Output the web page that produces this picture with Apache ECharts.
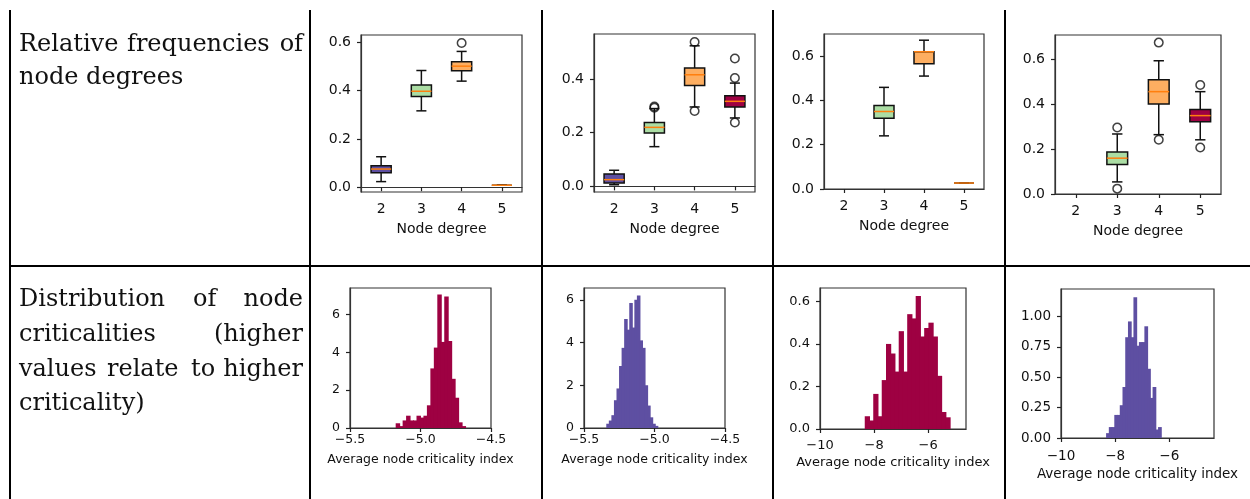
<!DOCTYPE html>
<html>
<head>
<meta charset="utf-8">
<script src="https://cdn.jsdelivr.net/npm/echarts@6/dist/echarts.min.js"></script>
<style>
html, body { margin: 0; padding: 0; background: #fff; }
#main { width: 1250px; height: 499px; }
</style>
</head>
<body>
<div id="main"></div>
<script>
// node degree categories and their colours (Spectral)
const DEGREES = ['2', '3', '4', '5'];
const DEGREE_COLORS = ['#5e4fa2', '#abdda4', '#fdae61', '#9e0142'];

// box stats: [degree index, low whisker, q1, median, q3, high whisker]
const BOX_1 = [[0, 0.023, 0.06, 0.075, 0.089, 0.126], [1, 0.316, 0.375, 0.397, 0.423, 0.483],
  [2, 0.439, 0.482, 0.501, 0.519, 0.562], [3, 0.008, 0.008, 0.008, 0.008, 0.008]];
const OUT_1 = [[2, 0.597]];
const BOX_2 = [[0, 0.006, 0.013, 0.025, 0.046, 0.06], [1, 0.148, 0.199, 0.22, 0.238, 0.29],
  [2, 0.296, 0.376, 0.416, 0.441, 0.524], [3, 0.255, 0.296, 0.317, 0.338, 0.385]];
const OUT_2 = [[1, 0.298], [1, 0.293], [2, 0.538], [2, 0.281], [3, 0.404], [3, 0.477], [3, 0.238]];
const BOX_3 = [[1, 0.24, 0.32, 0.35, 0.377, 0.459], [2, 0.51, 0.566, 0.62, 0.62, 0.672],
  [3, 0.027, 0.027, 0.027, 0.027, 0.027]];
const OUT_3 = [];
const BOX_4 = [[1, 0.054, 0.132, 0.16, 0.188, 0.268], [2, 0.265, 0.402, 0.457, 0.51, 0.595],
  [3, 0.242, 0.323, 0.35, 0.377, 0.457]];
const OUT_4 = [[1, 0.297], [1, 0.024], [2, 0.676], [2, 0.242], [3, 0.487], [3, 0.208]];

const BOX_TICKS_1 = [0, 0.2, 0.4, 0.6];
const BOX_TICKS_2 = [0, 0.2, 0.4];
const BOX_TICKS_3 = [0, 0.2, 0.4, 0.6];
const BOX_TICKS_4 = [0, 0.2, 0.4, 0.6];

// histogram densities, first bin edge and bin width
const HIST_1 = [0.25, 0.1, 0.4, 0.65, 0.4, 0.4, 0.65, 0.55, 0.65, 1.2,
  3.15, 4.25, 7.05, 4.55, 6.95, 4.6, 2.6, 1.6, 0.3, 0.1];
const HIST_1_START = -5.176, HIST_1_BIN = 0.0246;
const HIST_2 = [0.2, 0.35, 0.6, 1.3, 1.85, 2.9, 3.75, 5.1, 4.6, 5.85,
  4.7, 6.0, 6.2, 4.1, 3.75, 2.0, 1.05, 0.5, 0.2, 0.1];
const HIST_2_START = -5.342, HIST_2_BIN = 0.0181;
const HIST_3 = [0.06, 0.04, 0.165, 0.06, 0.23, 0.4, 0.355, 0.27, 0.46, 0.27,
  0.54, 0.52, 0.625, 0.435, 0.475, 0.5, 0.435, 0.25, 0.08, 0.055];
const HIST_3_START = -8.345, HIST_3_BIN = 0.157;
const HIST_4 = [0.04, 0.09, 0.09, 0.19, 0.19, 0.27, 0.42, 0.83, 0.96, 0.83,
  1.16, 0.76, 0.79, 0.79, 0.92, 0.57, 0.33, 0.42, 0.07, 0.09];
const HIST_4_START = -8.335, HIST_4_BIN = 0.101;

const HIST_X_TICKS_1 = [-5.5, -5.0, -4.5];
const HIST_X_TICKS_3 = [-10, -8, -6];
const HIST_Y_TICKS_1 = [0, 2, 4, 6];
const HIST_Y_TICKS_3 = [0, 0.2, 0.4, 0.6];
const HIST_Y_TICKS_4 = [0, 0.25, 0.5, 0.75, 1.0];

const CRIMSON = '#9e0142';
const PURPLE = '#5e4fa2';

const mpl = '"DejaVu Sans", sans-serif';
const fmt = (d) => (v) => Number(v).toFixed(d).replace('-', '\u2212');

// layout of the eight panels
const panels = [
  { box: BOX_1, out: OUT_1, yTicks: BOX_TICKS_1, ymin: -0.02, ymax: 0.63, rect: [361, 35, 161, 157], fs: 14, xm: 10, gap: 30 },
  { box: BOX_2, out: OUT_2, yTicks: BOX_TICKS_2, ymin: -0.021, ymax: 0.568, rect: [594, 34, 161, 158], fs: 14, xm: 10, gap: 30 },
  { box: BOX_3, out: OUT_3, yTicks: BOX_TICKS_3, ymin: 0, ymax: 0.70, rect: [824, 34, 160, 155], fs: 14, xm: 10, gap: 30 },
  { box: BOX_4, out: OUT_4, yTicks: BOX_TICKS_4, ymin: 0, ymax: 0.71, rect: [1055, 35, 166, 159], fs: 14, xm: 10, gap: 30 },
  { hist: HIST_1, start: HIST_1_START, bin: HIST_1_BIN, color: CRIMSON, xTicks: HIST_X_TICKS_1, yTicks: HIST_Y_TICKS_1,
    xmin: -5.5, xmax: -4.5, ymax: 7.4, xd: 1, yd: 0, rect: [350, 288, 141, 140], fs: 12.5, xm: 5, gap: 25 },
  { hist: HIST_2, start: HIST_2_START, bin: HIST_2_BIN, color: PURPLE, xTicks: HIST_X_TICKS_1, yTicks: HIST_Y_TICKS_1,
    xmin: -5.5, xmax: -4.5, ymax: 6.55, xd: 1, yd: 0, rect: [584, 288, 141, 140], fs: 12.5, xm: 5, gap: 25 },
  { hist: HIST_3, start: HIST_3_START, bin: HIST_3_BIN, color: CRIMSON, xTicks: HIST_X_TICKS_3, yTicks: HIST_Y_TICKS_3,
    xmin: -10, xmax: -4.6, ymax: 0.663, xd: 0, yd: 1, rect: [820, 288, 146, 141], fs: 13, xm: 10, gap: 27 },
  { hist: HIST_4, start: HIST_4_START, bin: HIST_4_BIN, color: PURPLE, xTicks: HIST_X_TICKS_3, yTicks: HIST_Y_TICKS_4,
    xmin: -10, xmax: -4.35, ymax: 1.227, xd: 0, yd: 2, rect: [1061, 289, 153, 149], fs: 13.5, xm: 11, gap: 29 }
];

function renderBox(params, api) {
  const idx = api.value(0);
  const lo = api.coord([idx, api.value(1)]);
  const q1 = api.coord([idx, api.value(2)]);
  const med = api.coord([idx, api.value(3)]);
  const q3 = api.coord([idx, api.value(4)]);
  const hi = api.coord([idx, api.value(5)]);
  const band = api.size([1, 0])[0];
  const half = band * 0.25, cap = band * 0.125;
  const x = lo[0];
  const ln = (x1, y1, x2, y2, c) => ({ type: 'line', shape: { x1, y1, x2, y2 }, style: { stroke: c, lineWidth: 1.5 } });
  return {
    type: 'group',
    children: [
      ln(x, q3[1], x, hi[1], '#111'),
      ln(x, lo[1], x, q1[1], '#111'),
      ln(x - cap, hi[1], x + cap, hi[1], '#111'),
      ln(x - cap, lo[1], x + cap, lo[1], '#111'),
      { type: 'rect', shape: { x: x - half, y: q3[1], width: half * 2, height: q1[1] - q3[1] },
        style: { fill: DEGREE_COLORS[idx], stroke: '#111', lineWidth: 1.5 } },
      ln(x - half, med[1], x + half, med[1], '#ff7f0e')
    ]
  };
}

function renderBar(params, api) {
  const p0 = api.coord([api.value(0), 0]);
  const p1 = api.coord([api.value(1), api.value(2)]);
  // overlap the next bin by a pixel so no seams show between bars
  return {
    type: 'rect',
    shape: { x: p0[0], y: p1[1], width: p1[0] - p0[0] + 1, height: p0[1] - p1[1] },
    style: { fill: api.visual('color') }
  };
}

const grid = [], xAxis = [], yAxis = [], series = [];
const axisText = (fs) => ({ color: '#111', fontFamily: mpl, fontSize: fs });
const tickStyle = { show: true, length: 4, lineStyle: { color: '#222', width: 1.2 } };
const lineStyle = { show: true, lineStyle: { color: '#333', width: 1.2 } };

panels.forEach((p, i) => {
  grid.push({ left: p.rect[0], top: p.rect[1], width: p.rect[2], height: p.rect[3],
    show: true, borderColor: '#333', borderWidth: 1.2, backgroundColor: 'transparent' });
  const yd = p.box ? 1 : p.yd;
  yAxis.push({
    type: 'value', gridIndex: i, min: p.box ? p.ymin : 0, max: p.ymax,
    axisLine: lineStyle, splitLine: { show: false },
    axisTick: Object.assign({ customValues: p.yTicks }, tickStyle),
    axisLabel: Object.assign({ customValues: p.yTicks, margin: 10, formatter: fmt(yd) }, axisText(p.fs))
  });
  if (p.box) {
    xAxis.push({
      type: 'category', gridIndex: i, data: DEGREES, boundaryGap: true,
      name: 'Node degree', nameLocation: 'middle', nameGap: p.gap, nameTextStyle: axisText(14),
      axisLine: lineStyle, splitLine: { show: false },
      axisTick: Object.assign({ alignWithLabel: true }, tickStyle),
      axisLabel: Object.assign({ margin: p.xm }, axisText(p.fs))
    });
    series.push({
      type: 'custom', xAxisIndex: i, yAxisIndex: i, renderItem: renderBox,
      encode: { x: 0, y: [1, 2, 3, 4, 5] }, data: p.box, silent: true
    });
    series.push({
      type: 'scatter', xAxisIndex: i, yAxisIndex: i, data: p.out, symbol: 'circle', symbolSize: 8.5,
      itemStyle: { color: 'transparent', borderColor: '#111', borderWidth: 1.5 }, silent: true
    });
  } else {
    xAxis.push({
      type: 'value', gridIndex: i, min: p.xmin, max: p.xmax,
      name: 'Average node criticality index', nameLocation: 'middle', nameGap: p.gap, nameTextStyle: axisText(p.fs),
      axisLine: lineStyle, splitLine: { show: false },
      axisTick: Object.assign({ customValues: p.xTicks }, tickStyle),
      axisLabel: Object.assign({ customValues: p.xTicks, margin: p.xm, formatter: fmt(p.xd) }, axisText(p.fs))
    });
    series.push({
      type: 'custom', xAxisIndex: i, yAxisIndex: i, renderItem: renderBar,
      encode: { x: [0, 1], y: 2 }, itemStyle: { color: p.color }, silent: true,
      data: p.hist.map((h, k) => [p.start + k * p.bin, p.start + (k + 1) * p.bin, h])
    });
  }
});

// table rules and the left-hand row captions
const rule = (x1, y1, x2, y2) => ({ type: 'line', shape: { x1, y1, x2, y2 }, style: { stroke: '#000', lineWidth: 2 }, silent: true });
const word = (text, x, y, align) => ({ type: 'text', silent: true,
  style: { text, x, y, align: align || 'left', verticalAlign: 'middle', fill: '#111', font: '24px "DejaVu Serif", serif' } });

const graphic = [
  rule(10, 10, 10, 499), rule(310, 10, 310, 499), rule(542, 10, 542, 499),
  rule(773, 10, 773, 499), rule(1005, 10, 1005, 499), rule(10, 266, 1250, 266),
  word('Relative', 19, 45), word('frequencies', 127, 45), word('of', 303, 45, 'right'),
  word('node degrees', 19, 78),
  word('Distribution', 19, 300), word('of', 193, 300), word('node', 303, 300, 'right'),
  word('criticalities', 19, 335), word('(higher', 303, 335, 'right'),
  word('values', 19, 370), word('relate', 107, 370), word('to', 191, 370), word('higher', 303, 370, 'right'),
  word('criticality)', 19, 404)
];

const chart = echarts.init(document.getElementById('main'));
chart.setOption({ animation: false, grid, xAxis, yAxis, series, graphic });
</script>
</body>
</html>
